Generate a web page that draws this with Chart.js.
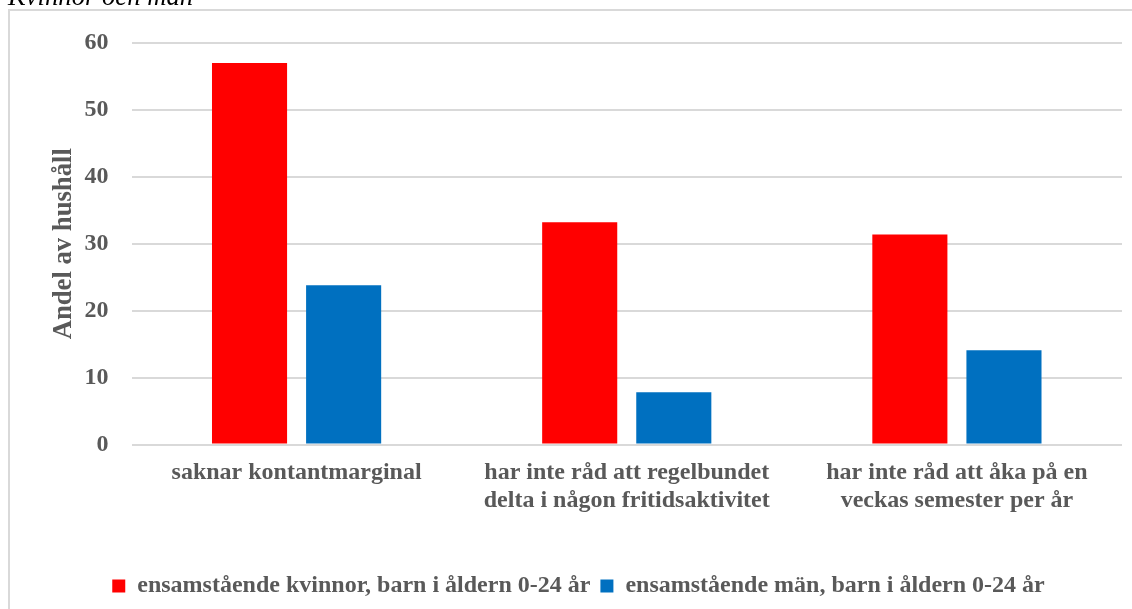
<!DOCTYPE html>
<html>
<head>
<meta charset="utf-8">
<script src="https://cdn.jsdelivr.net/npm/chart.js@4/dist/chart.umd.min.js"></script>
<style>
  html, body { margin: 0; padding: 0; background: #ffffff; overflow: hidden; }
  #wrap { position: relative; width: 1132px; height: 609px; }
  #title {
    position: absolute; left: 8px; top: -17px; line-height: 1;
    font-family: "Liberation Serif", "Times New Roman", serif;
    font-style: italic; font-size: 26.67px; color: #000; white-space: nowrap;
  }
  canvas { position: absolute; left: 0; top: 0; }
</style>
</head>
<body>
<div id="wrap">
  <canvas id="c" width="1132" height="609"></canvas>
  <div id="title">Kvinnor och män</div>
</div>
<script>
const categories = [
  ["saknar kontantmarginal"],
  ["har inte råd att regelbundet", "delta i någon fritidsaktivitet"],
  ["har inte råd att åka på en", "veckas semester per år"]
];
const seriesNames = [
  "ensamstående kvinnor, barn i åldern 0-24 år",
  "ensamstående män, barn i åldern 0-24 år"
];
const womenValues = [57.0, 33.2, 31.4];
const menValues = [23.8, 7.8, 14.1];
const yTicks = [0, 10, 20, 30, 40, 50, 60];
const yAxisTitle = "Andel av hushåll";

const FONT = '"Liberation Serif", "Times New Roman", serif';
const GRAY = '#595959';

const frame = {
  id: 'frame',
  beforeDraw(chart) {
    const ctx = chart.ctx;
    ctx.save();
    ctx.fillStyle = '#ffffff';
    ctx.fillRect(0, 0, chart.width, chart.height);
    ctx.strokeStyle = '#d9d9d9';
    ctx.lineWidth = 2;
    ctx.strokeRect(9, 10, chart.width + 20, chart.height + 20);
    ctx.restore();
  }
};

new Chart(document.getElementById('c'), {
  type: 'bar',
  data: {
    labels: categories,
    datasets: [
      { label: seriesNames[0], data: womenValues, backgroundColor: '#ff0000',
        barPercentage: 0.798, categoryPercentage: 0.57 },
      { label: seriesNames[1], data: menValues, backgroundColor: '#0070c0',
        barPercentage: 0.798, categoryPercentage: 0.57 }
    ]
  },
  options: {
    responsive: false,
    animation: false,
    devicePixelRatio: 1,
    layout: { padding: { left: 35, right: 10, top: 43, bottom: 1 } },
    plugins: {
      tooltip: { enabled: false },
      title: { display: false },
      legend: {
        position: 'bottom',
        labels: {
          boxWidth: 13, boxHeight: 13, padding: 10,
          color: GRAY,
          font: { family: FONT, size: 24, weight: 'bold' }
        }
      }
    },
    scales: {
      x: {
        grid: { display: false, drawTicks: false },
        border: { display: false },
        ticks: {
          color: GRAY, padding: 14, maxRotation: 0, autoSkip: false,
          font: { family: FONT, size: 24, weight: 'bold', lineHeight: 1.17 }
        },
        afterFit(scale) { scale.height = 119.5; }
      },
      y: {
        min: 0, max: 60,
        afterBuildTicks(scale) { scale.ticks = yTicks.map(v => ({ value: v })); },
        grid: { color: '#d9d9d9', lineWidth: 2, drawTicks: false },
        border: { display: false },
        ticks: {
          color: GRAY, padding: 23,
          font: { family: FONT, size: 24, weight: 'bold' }
        },
        title: {
          display: true, text: yAxisTitle, color: GRAY,
          padding: { top: 13, bottom: 0 },
          font: { family: FONT, size: 26.67, weight: 'bold', lineHeight: 1.2 }
        },
        afterFit(scale) { scale.width = 96.5; }
      }
    }
  },
  plugins: [frame]
});
</script>
</body>
</html>
